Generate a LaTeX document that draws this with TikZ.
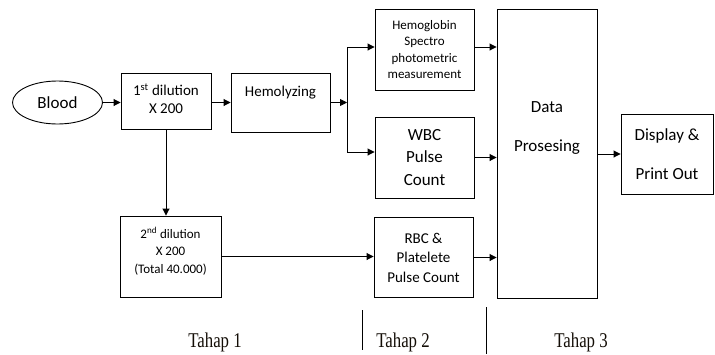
\documentclass[tikz,border=0pt]{standalone}
\usepackage{fontspec}
\setmainfont{Carlito}
\newfontfamily\tahapfont[FakeStretch=0.8]{Liberation Serif}
\usetikzlibrary{arrows.meta,shapes.geometric}
\begin{document}
\begin{tikzpicture}[x=1pt,y=-1pt,
  every node/.style={inner sep=0pt},
  boxnode/.style={draw,line width=0.9pt,rectangle,align=center},
  arr/.style={line width=0.9pt,-{Triangle[length=7pt,width=7pt]}},
  ln/.style={line width=0.9pt},
  tahap/.style={font=\tahapfont\fontsize{21}{24}\selectfont,text=black!90!brown}]
\useasboundingbox (0,0) rectangle (715,354);
% nodes
\node[draw,line width=0.9pt,ellipse,minimum width=90pt,minimum height=43pt,
  font=\fontsize{17}{20}\selectfont] (blood) at (57.5,102.5) {Blood};
\node[boxnode,minimum width=90pt,minimum height=56pt,
  font=\fontsize{15}{18}\selectfont] (dil1) at (166,101)
  {1\textsuperscript{st} dilution\\X 200\\[-14pt]};
\node[boxnode,minimum width=99pt,minimum height=59pt,text height=11pt,text depth=24pt,
  font=\fontsize{15}{18}\selectfont] (hemo) at (280.5,102.5) {Hemolyzing};
\node[boxnode,minimum width=99pt,minimum height=81pt,
  font=\fontsize{13}{16.5}\selectfont] (hb) at (424.5,49.5)
  {Hemoglobin\\Spectro\\photometric\\measurement};
\node[boxnode,minimum width=99pt,minimum height=81pt,
  font=\fontsize{17}{22.5}\selectfont] (wbc) at (424.5,157.5)
  {WBC\\Pulse\\Count};
\node[boxnode,minimum width=99pt,minimum height=80pt,
  font=\fontsize{15}{19.5}\selectfont] (rbc) at (423.5,257.5)
  {RBC \&\\Platelete\\Pulse Count};
\node[boxnode,minimum width=101pt,minimum height=81pt,
  font=\fontsize{13}{17.5}\selectfont] (dil2) at (170.5,256.5)
  {2\textsuperscript{nd} dilution\\X 200\\(Total 40.000)\\[-5pt]};
\node[boxnode,minimum width=100pt,minimum height=289pt,
  font=\fontsize{17}{39}\selectfont] (data) at (547,153.5)
  {Data\\Prosesing\\[15pt]};
\node[boxnode,minimum width=92pt,minimum height=80pt,
  font=\fontsize{17}{39}\selectfont] (disp) at (667,154)
  {Display \&\\Print Out};
% split coordinates
\coordinate (split) at (347,102.5);
\coordinate (stop) at (347,47);
\coordinate (sbot) at (347,152);
% connectors
\draw[arr] (blood) -- (dil1.west |- blood);
\draw[arr] (dil1.east |- blood) -- (hemo.west |- blood);
\draw[arr] (hemo.east |- split) -- (split);
\draw[ln] (stop) -- (sbot);
\draw[arr] (stop) -- (stop -| hb.west);
\draw[arr] (sbot) -- (sbot -| wbc.west);
\draw[arr] (hb.east |- stop) -- (stop -| data.west);
\draw[arr] (wbc.east) -- (wbc.east -| data.west);
\draw[arr] (rbc.east) -- (rbc.east -| data.west);
\draw[arr] (dil1.south) -- (dil1.south |- dil2.north);
\draw[arr] (dil2.east) -- (dil2.east -| rbc.west);
\draw[arr] (data.east |- disp.west) -- (disp.west);
% stage dividers and labels
\coordinate (d1a) at (362,310); \coordinate (d1b) at (362,350);
\coordinate (d2a) at (486,307); \coordinate (d2b) at (486,354);
\draw[line width=0.8pt] (d1a) -- (d1b);
\draw[line width=0.8pt] (d2a) -- (d2b);
\node[tahap,anchor=base] (t1) at (215,347) {Tahap 1};
\node[tahap,anchor=base] (t2) at (403,347) {Tahap 2};
\node[tahap,anchor=base] (t3) at (581,347) {Tahap 3};
\end{tikzpicture}
\end{document}
